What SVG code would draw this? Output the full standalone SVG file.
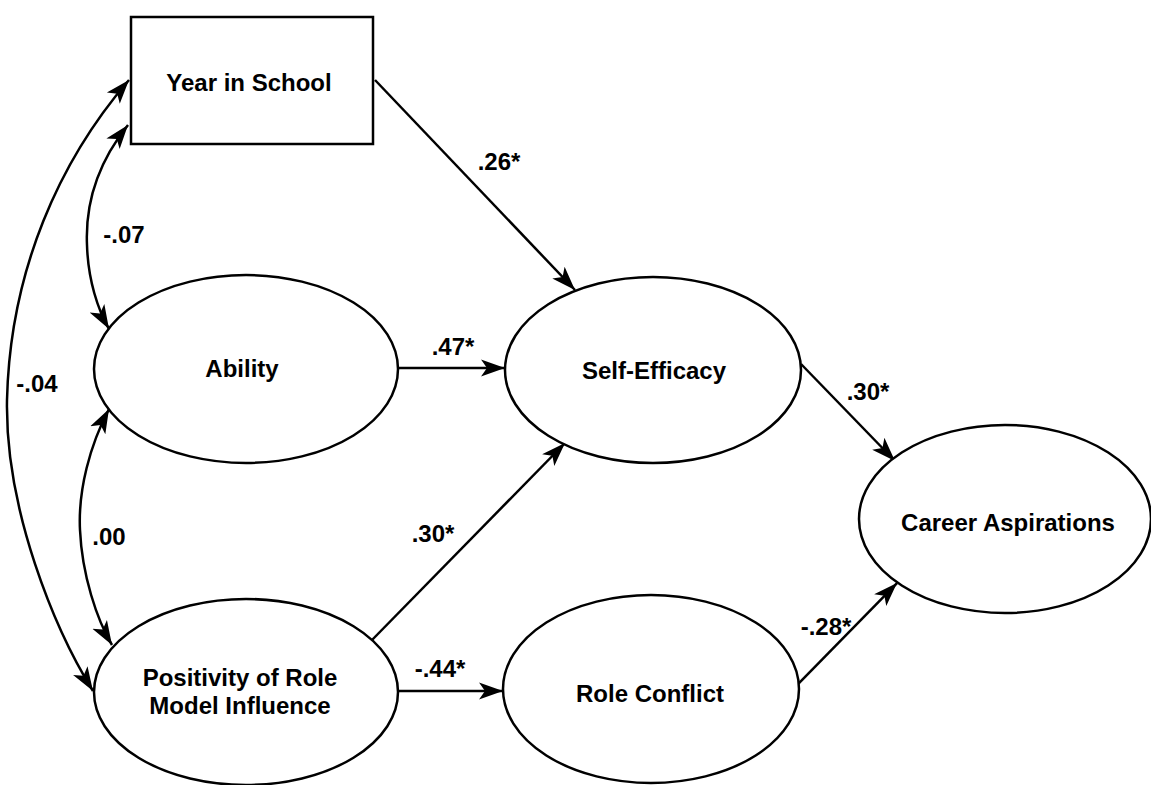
<svg xmlns="http://www.w3.org/2000/svg" width="1151" height="785" viewBox="0 0 1151 785">
<style>
.node{fill:#fff;stroke:#000;stroke-width:2.5}
.t{font-family:"Liberation Sans",Arial,sans-serif;font-weight:bold;font-size:24px;text-anchor:middle;fill:#000}
.c{fill:none;stroke:#000;stroke-width:2.5}
.a{marker-end:url(#ah)}
.d{marker-start:url(#ah);marker-end:url(#ah)}
</style>
<defs>
<marker id="ah" markerUnits="userSpaceOnUse" markerWidth="26" markerHeight="20" refX="24" refY="10" orient="auto-start-reverse">
<path d="M0,1.5 L24,10 L0,18.5 L6,10 Z" fill="#000"/>
</marker>
</defs>
<rect width="1151" height="785" fill="#fff"/>
<g id="connectors">
<path class="c a" d="M375,80 L575,290"/>
<path class="c a" d="M398,368 L505,368"/>
<path class="c a" d="M372,640 L565,443"/>
<path class="c a" d="M397,691 L503,691"/>
<path class="c a" d="M801,364 L895,461"/>
<path class="c a" d="M798,684 L897,583"/>
<path class="c d" d="M128,125 C100,160 85,200 87,245 C88,280 98,310 109,329"/>
<path class="c d" d="M109,409 C90,445 78,490 80,530 C82,575 97,620 112,645"/>
<path class="c d" d="M129,80 C60,160 10,270 7,400 C5,510 55,630 93,691"/>
<text class="t" x="499" y="170">.26*</text>
<text class="t" x="453" y="355">.47*</text>
<text class="t" x="433" y="542">.30*</text>
<text class="t" x="440" y="677">-.44*</text>
<text class="t" x="868" y="400">.30*</text>
<text class="t" x="826" y="635">-.28*</text>
<text class="t" x="124" y="243">-.07</text>
<text class="t" x="37" y="392">-.04</text>
<text class="t" x="109" y="545">.00</text>
</g>
<g id="year">
<rect class="node" x="131" y="17" width="242" height="127"/>
<text class="t" x="249" y="91">Year in School</text>
</g>
<g id="ability">
<ellipse class="node" cx="246" cy="369" rx="152" ry="94"/>
<text class="t" x="242" y="377">Ability</text>
</g>
<g id="positivity">
<ellipse class="node" cx="246" cy="692" rx="152" ry="93"/>
<text class="t" x="240" y="686">Positivity of Role</text>
<text class="t" x="240" y="714">Model Influence</text>
</g>
<g id="selfefficacy">
<ellipse class="node" cx="653" cy="370" rx="148" ry="93"/>
<text class="t" x="654" y="379">Self-Efficacy</text>
</g>
<g id="roleconflict">
<ellipse class="node" cx="651" cy="689" rx="148" ry="94"/>
<text class="t" x="650" y="702">Role Conflict</text>
</g>
<g id="career">
<ellipse class="node" cx="1005" cy="519" rx="146" ry="94"/>
<text class="t" x="1008" y="531">Career Aspirations</text>
</g>
</svg>
